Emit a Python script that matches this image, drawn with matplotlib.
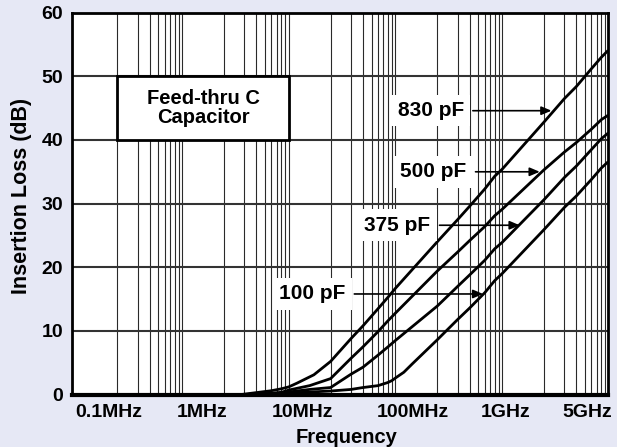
import numpy as np
import matplotlib
matplotlib.use("Agg")
import matplotlib.pyplot as plt
from matplotlib.patches import Rectangle
from matplotlib.transforms import ScaledTranslation

# ---------------- data (frequency in MHz, insertion loss in dB) ----------------
series_names = ["830 pF", "500 pF", "375 pF", "100 pF"]

freq_830 = [1.8, 3, 5, 7, 9, 9.2, 9.6, 10, 20, 30, 50, 70, 90, 100, 200, 300, 500,
            700, 900, 1000, 2000, 3000, 5000, 7000, 8850]
loss_830 = [0, 0.3, 0.6, 0.9, 1.2, 1.8, 3.1, 5.2, 8.8, 10.8, 13.5, 15.3, 16.7, 24.0,
            27.5, 29.6, 32.3, 34.3, 35.4, 42.8, 46.5, 48.4, 51.2, 53.0, 54.1]

freq_500 = [1.8, 3, 5, 7, 9, 9.5, 10, 20, 30, 50, 70, 90, 100, 200, 300, 500, 700,
            900, 1000, 2000, 3000, 5000, 7000, 8850]
loss_500 = [0, 0.05, 0.2, 0.35, 0.7, 1.4, 2.5, 5.7, 7.5, 9.9, 11.6, 12.8, 19.4, 22.4,
            24.2, 26.4, 28.1, 29.1, 35.3, 38.1, 39.6, 41.7, 43.2, 43.9]

freq_375 = [1.8, 5, 9, 9.5, 10, 20, 30, 50, 70, 90, 100, 200, 300, 500, 700, 900,
            1000, 2000, 3000, 5000, 7000, 8850]
loss_375 = [0, 0.1, 0.4, 0.8, 1.1, 3.2, 4.3, 6.2, 7.5, 8.5, 13.9, 17.0, 18.8, 21.1,
            22.9, 23.9, 30.6, 34.1, 35.9, 38.5, 40.2, 41.1]

freq_100 = [1.8, 5, 10, 20, 30, 50, 70, 80, 90, 92, 94, 100, 200, 300, 500, 700, 900,
            1000, 2000, 3000, 5000, 7000, 8850]
loss_100 = [0, 0.1, 0.55, 0.8, 1.1, 1.4, 1.9, 2.2, 2.6, 3.5, 4.8, 8.6, 11.8, 13.6,
            16.0, 17.9, 19.0, 25.9, 29.4, 31.2, 33.8, 35.6, 36.6]

# arrow tips of the curve labels (MHz, dB)
tip_freq = [1290, 990, 942, 473]
tip_loss = [44.6, 35.0, 26.6, 15.8]

tick_freqs = [0.1, 1, 10, 100, 1000, 5000]
tick_labels = ["0.1MHz", "1MHz", "10MHz", "100MHz", "1GHz", "5GHz"]
y_ticks = [0, 10, 20, 30, 40, 50, 60]

# ---------------- layout / style ----------------
label_x_frac = [0.669, 0.674, 0.607, 0.448]       # label centres (axes fraction)
tick_label_dx = [-8.3, -22.3, -27.7, -24.1, -38.3, -3.7]  # px shifts of tick labels
BG = "#E6E8F5"
FONT = ["Liberation Sans", "DejaVu Sans"]
plt.rcParams["font.family"] = FONT
plt.rcParams["font.weight"] = "bold"

# chart-paper style frequency axis: 1..9 log-spaced in part of each decade
K = 68.0 / 106.7
G9 = K * np.log10(9.0)


def fwd(f):
    f = np.clip(np.asarray(f, dtype=float), 1e-9, None)
    d = np.floor(np.log10(f) + 1e-9)
    m = f / 10.0 ** d
    g = np.where(m <= 9, K * np.log10(np.clip(m, 1e-9, None)), G9 + (m - 9) * (1 - G9))
    return d + g


def inv(p):
    p = np.asarray(p, dtype=float)
    d = np.floor(p + 1e-12)
    r = p - d
    m = np.where(r <= G9, 10.0 ** (r / K), 9 + (r - G9) / (1 - G9))
    return m * 10.0 ** d


fig = plt.figure(figsize=(6.17, 4.47), dpi=100, facecolor=BG)
ax = fig.add_axes([0.1162, 0.1174, 0.8697, 0.8542])
ax.set_facecolor("white")
ax.set_xscale("function", functions=(fwd, inv))
ax.set_xlim(0.0792, 8850)
ax.set_ylim(0, 60)

# grid
grid_f = [m * 10.0 ** d for d in range(-1, 4) for m in range(1, 10)]
grid_f = [g for g in grid_f if g < 8850]
ax.vlines(grid_f, 0, 60, colors="#2a2a2a", linewidth=0.8, zorder=1)
ax.hlines(y_ticks[1:-1], 0.0792, 8850, colors="#333333", linewidth=1.5, zorder=1)

# curves
for fr, lo in [(freq_830, loss_830), (freq_500, loss_500),
               (freq_375, loss_375), (freq_100, loss_100)]:
    ax.plot(fr, lo, color="black", linewidth=2.0, zorder=3, solid_capstyle="butt")

# title box
box = Rectangle((0.1, 40), 9 - 0.1, 10, facecolor="white", edgecolor="black",
                linewidth=2.0, zorder=4)
ax.add_patch(box)
cx = float(inv((fwd(0.1) + fwd(9)) / 2))
ax.text(cx, 45, "Feed-thru C\nCapacitor", ha="center", va="center", fontsize=14.5,
        fontweight="bold", linespacing=1.0, zorder=5)

# curve labels with arrows
for name, tf, tl, tx in zip(series_names, tip_freq, tip_loss, label_x_frac):
    ax.annotate(name, xy=(tf, tl), xycoords="data", xytext=(tx, tl),
                textcoords=("axes fraction", "data"), ha="center", va="center",
                fontsize=15, fontweight="bold", zorder=6,
                bbox=dict(boxstyle="square,pad=0.3", facecolor="white", edgecolor="none"),
                arrowprops=dict(arrowstyle="-|>,head_length=0.4,head_width=0.17",
                                color="black", lw=1.2, shrinkA=2, shrinkB=0))

# axes decoration
ax.set_xticks(tick_freqs)
ax.set_xticklabels(tick_labels)
ax.set_xticks([], minor=True)
ax.set_yticks(y_ticks)
ax.tick_params(axis="both", length=0, labelsize=14)
ax.tick_params(axis="x", pad=7)
ax.tick_params(axis="y", pad=6)
for lab in ax.get_xticklabels() + ax.get_yticklabels():
    lab.set_fontweight("bold")
for lab, dx in zip(ax.get_xticklabels(), tick_label_dx):
    lab.set_transform(lab.get_transform() + ScaledTranslation(dx / 100.0, 0, fig.dpi_scale_trans))

for side in ["left", "top", "right"]:
    ax.spines[side].set_linewidth(2.0)
ax.spines["bottom"].set_linewidth(3.0)
for s in ax.spines.values():
    s.set_zorder(7)

ax.set_xlabel("Frequency", fontsize=14.5, fontweight="bold")
ax.xaxis.set_label_coords((347 - 71.7) / 536.6, -(437 - 394.5) / 381.8)
ax.xaxis.label.set_va("center")
ax.set_ylabel("Insertion Loss (dB)", fontsize=15.5, fontweight="bold")
ax.yaxis.set_label_coords(-(71.7 - 21.5) / 536.6, (394.5 - 195.5) / 381.8)
ax.yaxis.label.set_va("center")

fig.savefig("out.png", dpi=100, facecolor=BG)
